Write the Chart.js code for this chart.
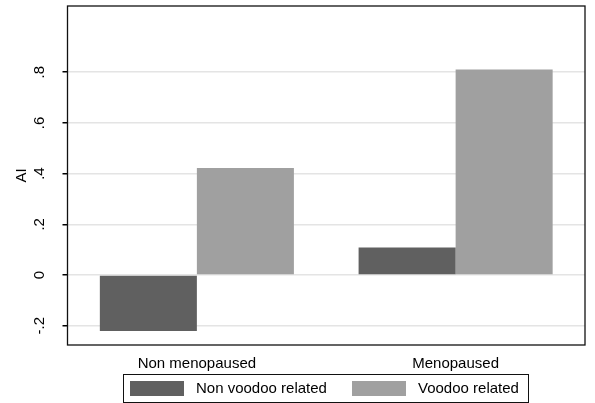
<!DOCTYPE html>
<html>
<head>
<meta charset="utf-8">
<script src="https://cdn.jsdelivr.net/npm/chart.js@4.4.1/dist/chart.umd.min.js"></script>
<style>
  html, body { margin: 0; padding: 0; background: #fff; }
  #wrap { width: 595px; height: 403px; }
</style>
</head>
<body>
<div id="wrap"><canvas id="mycanvas" width="595" height="403"></canvas></div>
<script>
// data
var groups = ['Non menopaused', 'Menopaused'];
var seriesNames = ['Non voodoo related', 'Voodoo related'];
var nonVoodoo = [-0.221, 0.109];
var voodoo = [0.422, 0.811];
var tickVals = [-0.2, 0, 0.2, 0.4, 0.6, 0.8];
var tickText = ['-.2', '0', '.2', '.4', '.6', '.8'];

var darkGray = '#606060';
var lightGray = '#a0a0a0';
var font = 'Arial, "Liberation Sans", sans-serif';

// draws the plot box, rotated y labels and the boxed legend (Stata look)
var stataBits = {
	id: 'stataBits',
	afterDraw: function(chart) {
		var ctx = chart.ctx;
		var a = chart.chartArea;
		var y = chart.scales.y;
		ctx.save();

		ctx.strokeStyle = '#111';
		ctx.lineWidth = 1.3;
		ctx.strokeRect(a.left, a.top, a.right - a.left, a.bottom - a.top);

		ctx.fillStyle = '#000';
		ctx.font = '15px ' + font;
		ctx.textAlign = 'center';
		ctx.textBaseline = 'middle';
		for (var i = 0; i < tickVals.length; i++) {
			var py = y.getPixelForValue(tickVals[i]);
			ctx.save();
			ctx.translate(40, py);
			ctx.rotate(-Math.PI / 2);
			ctx.fillText(tickText[i], 0, 0);
			ctx.restore();
		}

		// legend
		var ds = chart.data.datasets;
		ctx.strokeStyle = '#111';
		ctx.lineWidth = 1;
		ctx.strokeRect(123.5, 374.5, 405, 28);
		var slots = [130, 352];
		ctx.textAlign = 'left';
		for (var j = 0; j < ds.length; j++) {
			ctx.fillStyle = ds[j].backgroundColor;
			ctx.fillRect(slots[j], 381, 54, 15);
			ctx.fillStyle = '#000';
			ctx.fillText(ds[j].label, slots[j] + 66, 389);
		}
		ctx.restore();
	}
};

var chartdata = {
	labels: groups,
	datasets: [
		{
			label: seriesNames[0],
			backgroundColor: darkGray,
			borderWidth: 0,
			data: nonVoodoo
		},
		{
			label: seriesNames[1],
			backgroundColor: lightGray,
			borderWidth: 0,
			data: voodoo
		}
	]
};

var ctx = document.getElementById('mycanvas');

var barGraph = new Chart(ctx, {
	type: 'bar',
	data: chartdata,
	plugins: [stataBits],
	options: {
		responsive: false,
		animation: false,
		devicePixelRatio: 1,
		layout: { padding: { top: 6, right: 10, left: 0, bottom: 0 } },
		datasets: {
			bar: { categoryPercentage: 0.75, barPercentage: 1.0 }
		},
		plugins: {
			legend: { display: false },
			tooltip: { enabled: false }
		},
		scales: {
			x: {
				grid: { display: false },
				border: { display: false },
				ticks: {
					color: '#000',
					font: { family: font, size: 15 },
					padding: 2,
					maxRotation: 0
				},
				afterFit: function(scale) { scale.height = 58; }
			},
			y: {
				min: -0.276,
				max: 1.061,
				afterBuildTicks: function(scale) {
					scale.ticks = tickVals.map(function(v) { return { value: v }; });
				},
				grid: {
					color: '#e4e4e4',
					lineWidth: 1.5,
					tickColor: '#000',
					tickLength: 5
				},
				border: { display: false },
				ticks: { display: false },
				title: {
					display: true,
					text: 'AI',
					color: '#000',
					font: { family: font, size: 15 },
					padding: { top: 13, bottom: 0 }
				},
				afterFit: function(scale) { scale.width = 67.5; }
			}
		}
	}
});
</script>
</body>
</html>
